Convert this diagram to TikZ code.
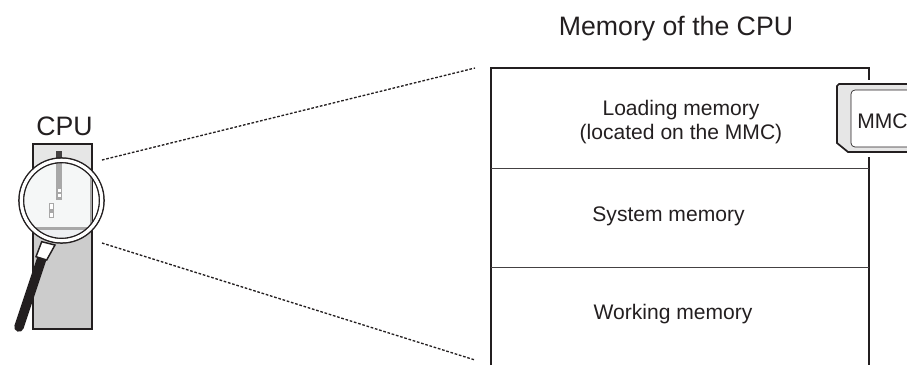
\documentclass[tikz,border=0pt]{standalone}
\usepackage{fontspec}
\setmainfont{Liberation Sans}
\usetikzlibrary{positioning}
\definecolor{cpulight}{HTML}{E6E6E6}
\definecolor{cpudark}{HTML}{CCCCCC}
\definecolor{cpuline}{HTML}{A8A8A8}
\definecolor{lensglass}{HTML}{F5F7F7}
\definecolor{lenslow}{HTML}{EEF0F3}
\definecolor{inkblack}{HTML}{231F20}
\tikzset{%
    memlabel/.style={font=\fontsize{15.8}{18.4}\selectfont,text=inkblack,align=center,inner sep=0pt},
    biglabel/.style={font=\fontsize{20}{24}\selectfont,text=inkblack,inner sep=0pt},
    dotline/.style={inkblack,line width=1pt,dash pattern=on 2pt off 1.3pt},
    memframe/.style={inkblack,line width=1pt},
    memsplit/.style={inkblack!85,line width=.6pt}
}
\begin{document}
\begin{tikzpicture}[%
    x=.75pt,
    y=-.75pt
    ]
    \useasboundingbox (0,0) rectangle (907,365);

    % the CPU module
    \fill[cpulight] (33,143) rectangle (92,228);
    \fill[cpudark] (33,228) rectangle (92,329);
    \draw[inkblack,line width=1.3pt] (33,144) rectangle (92,329);

    % glass of the magnifier
    \coordinate (lens) at (61.5,200.5);
    \begin{scope}
        \clip (lens) circle (38);
        \fill[lensglass] (20,150) rectangle (91,227);
        \fill[lenslow] (20,230) rectangle (100,245);
        \fill[cpuline] (20,227) rectangle (100,230);
        \fill[cpuline] (90,150) rectangle (92,230);
    \end{scope}
    \fill[cpuline] (56,160) rectangle (62,200);
    \fill[white] (57.5,189) rectangle (60.5,192);
    \fill[white] (57.5,194) rectangle (60.5,197);
    \fill[inkblack!85] (56,151) rectangle (62,163);
    \draw[cpuline,line width=.6pt,fill=white] (49.5,203) rectangle (53.5,209);
    \fill[cpuline] (49,209) rectangle (54,212);
    \draw[cpuline,line width=.6pt,fill=white] (49.5,212) rectangle (53.5,217);
    \draw[inkblack,line width=1.2pt] (lens) circle (42.5);
    \draw[inkblack,line width=1.2pt] (lens) circle (38);
    \draw[white,line width=2.4pt] (lens) circle (40.2);

    % handle of the magnifier
    \draw[inkblack,line width=7.2pt,line cap=round] (42,258) -- (19,327);
    \draw[inkblack,line width=1.1pt,fill=white] (41.7,241.7) -- (55,245) -- (46.7,260) -- (36,256.7) -- cycle;

    \node[biglabel] (cpu) at (64.5,126) {CPU};
    \coordinate (cpuup) at (102,160);
    \coordinate (cpulow) at (102,243);

    % memory frame, open at the bottom
    \coordinate (frametl) at (491,68);
    \coordinate (frametr) at (869,68);
    \coordinate (framebl) at (491,365);
    \coordinate (framebr) at (869,365);
    \coordinate (viewup) at (475,68);
    \coordinate (viewlow) at (475,360);
    \draw[memframe] (framebl) -- (frametl) -- (frametr) -- (869,80);
    \draw[memframe] (869,157) -- (framebr);
    \draw[memsplit] (491,168) -- (869,168);
    \draw[memsplit] (491,267) -- (869,267);

    \draw[dotline] (cpuup) -- (viewup);
    \draw[dotline] (cpulow) -- (viewlow);

    \node[biglabel,anchor=base] (title) at (676,35) {Memory of the CPU};
    \node[memlabel] (load) at (681,122) {Loading memory\\(located on the MMC)};
    \node[memlabel,anchor=base] (sys) at (668.5,221) {System memory};
    \node[memlabel,anchor=base] (work) at (673,319) {Working memory};

    % the card, it runs off the page
    \draw[inkblack,line width=1.3pt,fill=cpulight]
        (910,84) -- (839,84) -- (837,86) -- (837,143) -- (848,152) -- (910,152);
    \draw[inkblack,line width=.5pt,fill=white,rounded corners=3pt]
        (910,90) -- (851,90) -- (851,147) -- (910,147);
    \node[memlabel,anchor=base west] (mmc) at (857,128) {MMC};
\end{tikzpicture}
\end{document}
